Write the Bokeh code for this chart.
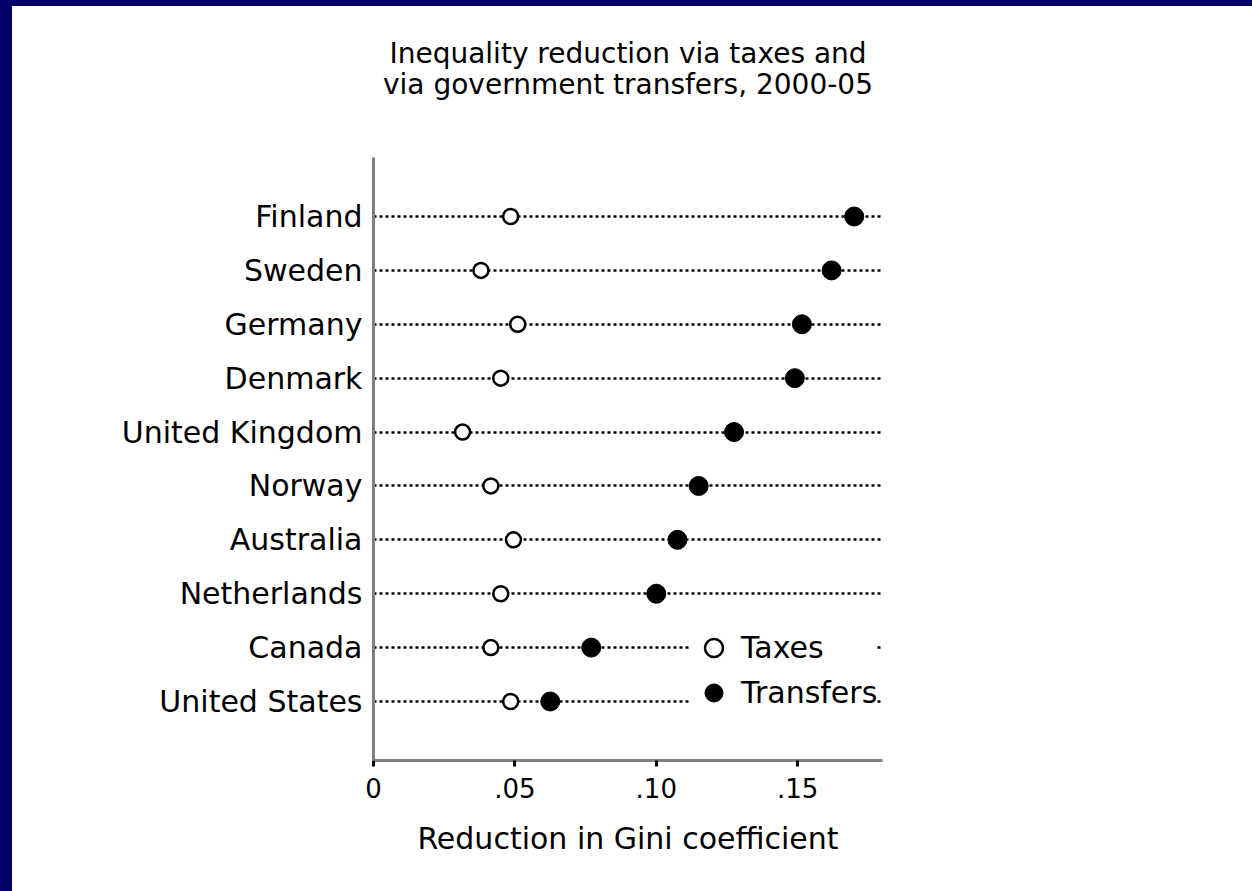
from bokeh.plotting import figure
from bokeh.models import (FactorRange, Range1d, FixedTicker, Legend, LegendItem,
                          GlobalInlineStyleSheet, Title)
from bokeh.embed import file_html
from bokeh.resources import INLINE

countries = ["Finland", "Sweden", "Germany", "Denmark", "United Kingdom",
             "Norway", "Australia", "Netherlands", "Canada", "United States"]
taxes = [0.0485, 0.038, 0.051, 0.045, 0.0315, 0.0415, 0.0495, 0.045, 0.0415, 0.0485]
transfers = [0.170, 0.162, 0.1515, 0.149, 0.1275, 0.115, 0.1075, 0.100, 0.077, 0.0625]
x_ticks = [0, 0.05, 0.10, 0.15]
x_tick_labels = ["0", ".05", ".10", ".15"]
title_lines = ["Inequality reduction via taxes and", "via government transfers, 2000-05"]

FONT = "DejaVu Sans"

p = figure(
    width=1240, height=884,
    frame_width=509, frame_height=603,
    min_border_left=361, min_border_right=370,
    min_border_top=151, min_border_bottom=130,
    x_range=Range1d(0, 0.18),
    y_range=FactorRange(factors=list(reversed(countries)),
                        range_padding=0.595, range_padding_units="absolute"),
    output_backend="svg", toolbar_location=None,
)
p.stylesheets = [GlobalInlineStyleSheet(
    css="html{background:#ffffff;overflow:hidden;}"
        "body{margin:0;padding:6px 0 0 12px;background:#ffffff;overflow:hidden;}"
        "body::before{content:'';position:fixed;left:0;top:0;width:12px;height:100%;"
        "background:#000066;z-index:10;}"
        "body::after{content:'';position:fixed;left:0;top:0;width:100%;height:6px;"
        "background:#000066;z-index:10;}")]

p.background_fill_color = "white"
p.border_fill_color = "white"
p.outline_line_color = None
p.title = None

# title: two single-line titles; the first added sits nearest the frame
p.add_layout(Title(text=title_lines[1], align="center", text_font=FONT,
                   text_font_size="28px", text_font_style="normal",
                   text_color="black", standoff=114), "above")
p.add_layout(Title(text=title_lines[0], align="center", text_font=FONT,
                   text_font_size="28px", text_font_style="normal",
                   text_color="black", standoff=-122), "above")

# grids: dotted lines for each country
p.xgrid.grid_line_color = None
p.ygrid.grid_line_color = "black"
p.ygrid.grid_line_width = 2.5
p.ygrid.grid_line_dash = "3 3"

# x axis
xa = p.xaxis[0]
xa.ticker = FixedTicker(ticks=x_ticks)
xa.major_label_overrides = {t: l for t, l in zip(x_ticks, x_tick_labels)}
xa.axis_line_color = "#808080"
xa.axis_line_width = 3
xa.major_tick_line_color = "black"
xa.major_tick_line_width = 3
xa.major_tick_out = 6
xa.major_tick_in = 0
xa.minor_tick_line_color = None
xa.major_label_text_font = FONT
xa.major_label_text_font_size = "26px"
xa.major_label_text_color = "black"
xa.major_label_standoff = 11
xa.axis_label = "Reduction in Gini coefficient"
xa.axis_label_text_font = FONT
xa.axis_label_text_font_size = "30px"
xa.axis_label_text_font_style = "normal"
xa.axis_label_text_color = "black"
xa.axis_label_standoff = 20

# y axis
ya = p.yaxis[0]
ya.axis_line_color = "#808080"
ya.axis_line_width = 3
ya.major_tick_line_color = None
ya.major_tick_out = 0
ya.major_tick_in = 0
ya.minor_tick_line_color = None
ya.major_label_text_font = FONT
ya.major_label_text_font_size = "30px"
ya.major_label_text_color = "black"
ya.major_label_standoff = 11

r_tax = p.scatter(x=taxes, y=countries, marker="circle", size=15,
                  fill_color="white", line_color="black", line_width=2.5)
r_tr = p.scatter(x=transfers, y=countries, marker="circle", size=19,
                 fill_color="black", line_color="black", line_width=1)

legend = Legend(items=[LegendItem(label="Taxes", renderers=[r_tax]),
                       LegendItem(label="Transfers", renderers=[r_tr])],
                location=(318, 45), orientation="vertical",
                background_fill_color="white", background_fill_alpha=1,
                border_line_color=None,
                label_text_font=FONT, label_text_font_size="30px",
                label_text_color="black",
                glyph_width=45, glyph_height=45, label_height=45,
                spacing=0, padding=4, margin=0, label_standoff=5)
p.add_layout(legend)

open("out.html", "w").write(file_html(p, INLINE))
